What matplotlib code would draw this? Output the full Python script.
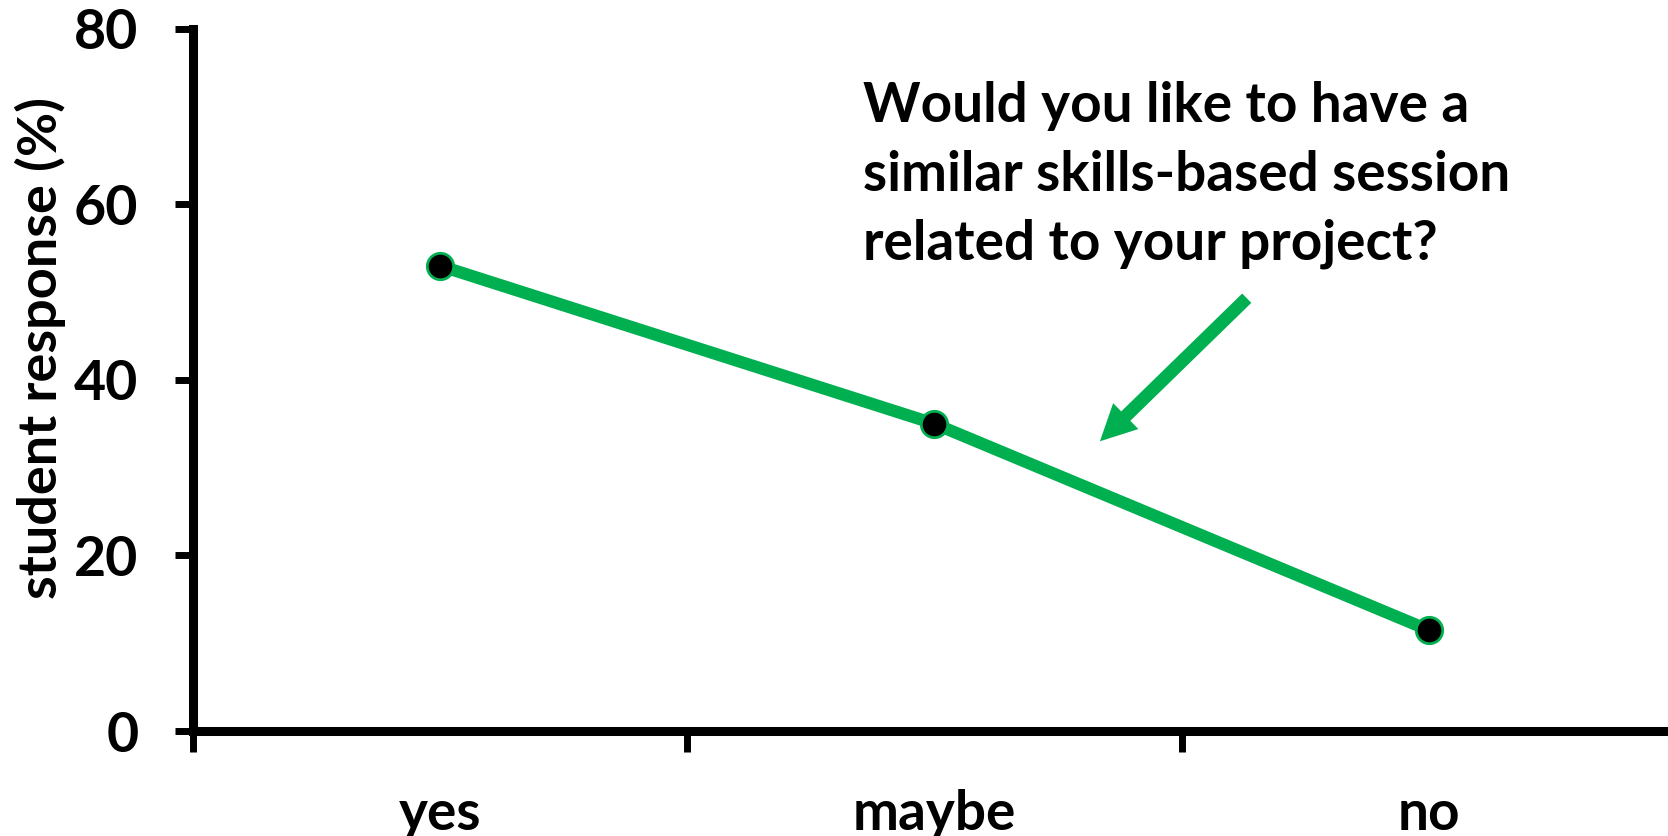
import matplotlib
matplotlib.use("Agg")
import matplotlib.pyplot as plt
from matplotlib.ticker import FixedLocator, NullFormatter, FixedFormatter
from matplotlib.patches import FancyArrowPatch

categories = ["yes", "maybe", "no"]
responses = [53, 35, 11.5]
y_ticks = [0, 20, 40, 60, 80]
question = "Would you like to have a\nsimilar skills-based session\nrelated to your project?"
ylabel = "student response (%)"

GREEN = "#00B050"
FONT = ["Lato", "DejaVu Sans"]
DPI = 100
W, H = 1668, 836

plt.rcParams['font.family'] = FONT
plt.rcParams['font.weight'] = 'bold'

fig = plt.figure(figsize=(W / DPI, H / DPI), dpi=DPI)
ax = fig.add_axes([192.5 / W, 105 / H, (W - 192.5) / W, (731 - 28.7) / H])

x = list(range(len(categories)))
ax.plot(x, responses, color=GREEN, lw=8.8, marker='o', markersize=19,
        markerfacecolor='black', markeredgecolor=GREEN, markeredgewidth=2,
        solid_capstyle='butt', zorder=3, clip_on=False)

ax.set_xlim(-0.5, -0.5 + (W - 192.5) / 494.5)
ax.set_ylim(0, 80)

for s in ['top', 'right']:
    ax.spines[s].set_visible(False)
for s in ['left', 'bottom']:
    ax.spines[s].set_linewidth(6.5)
    ax.spines[s].set_capstyle('projecting')

ax.set_yticks(y_ticks)
ax.tick_params(axis='y', direction='out', length=13, width=5, pad=26,
               labelsize=40)
ax.xaxis.set_major_locator(FixedLocator([-0.5, 0.5, 1.5]))
ax.xaxis.set_major_formatter(NullFormatter())
ax.xaxis.set_minor_locator(FixedLocator(x))
ax.xaxis.set_minor_formatter(FixedFormatter(categories))
ax.tick_params(axis='x', which='major', direction='out', length=15, width=5)
ax.tick_params(axis='x', which='minor', length=0, pad=42, labelsize=39.5)

for lbl in ax.get_yticklabels() + ax.get_xticklabels(minor=True):
    lbl.set_fontweight('bold')

ax.set_ylabel(ylabel, fontsize=39, fontweight='bold')
ax.yaxis.set_label_coords(-0.086, 0.545)

ax.text(0.855, 74, question, fontsize=39.5, fontweight='bold', ha='left',
        va='top', linespacing=1.45, color='black')

arrow = FancyArrowPatch((1.632, 49.3), (1.335, 33.0),
                        arrowstyle='simple,head_length=2.6,head_width=2.6,tail_width=0.94',
                        mutation_scale=10, color=GREEN, lw=0,
                        shrinkA=0, shrinkB=0, zorder=4)
ax.add_patch(arrow)

fig.savefig("out.png", dpi=DPI, facecolor='white')
